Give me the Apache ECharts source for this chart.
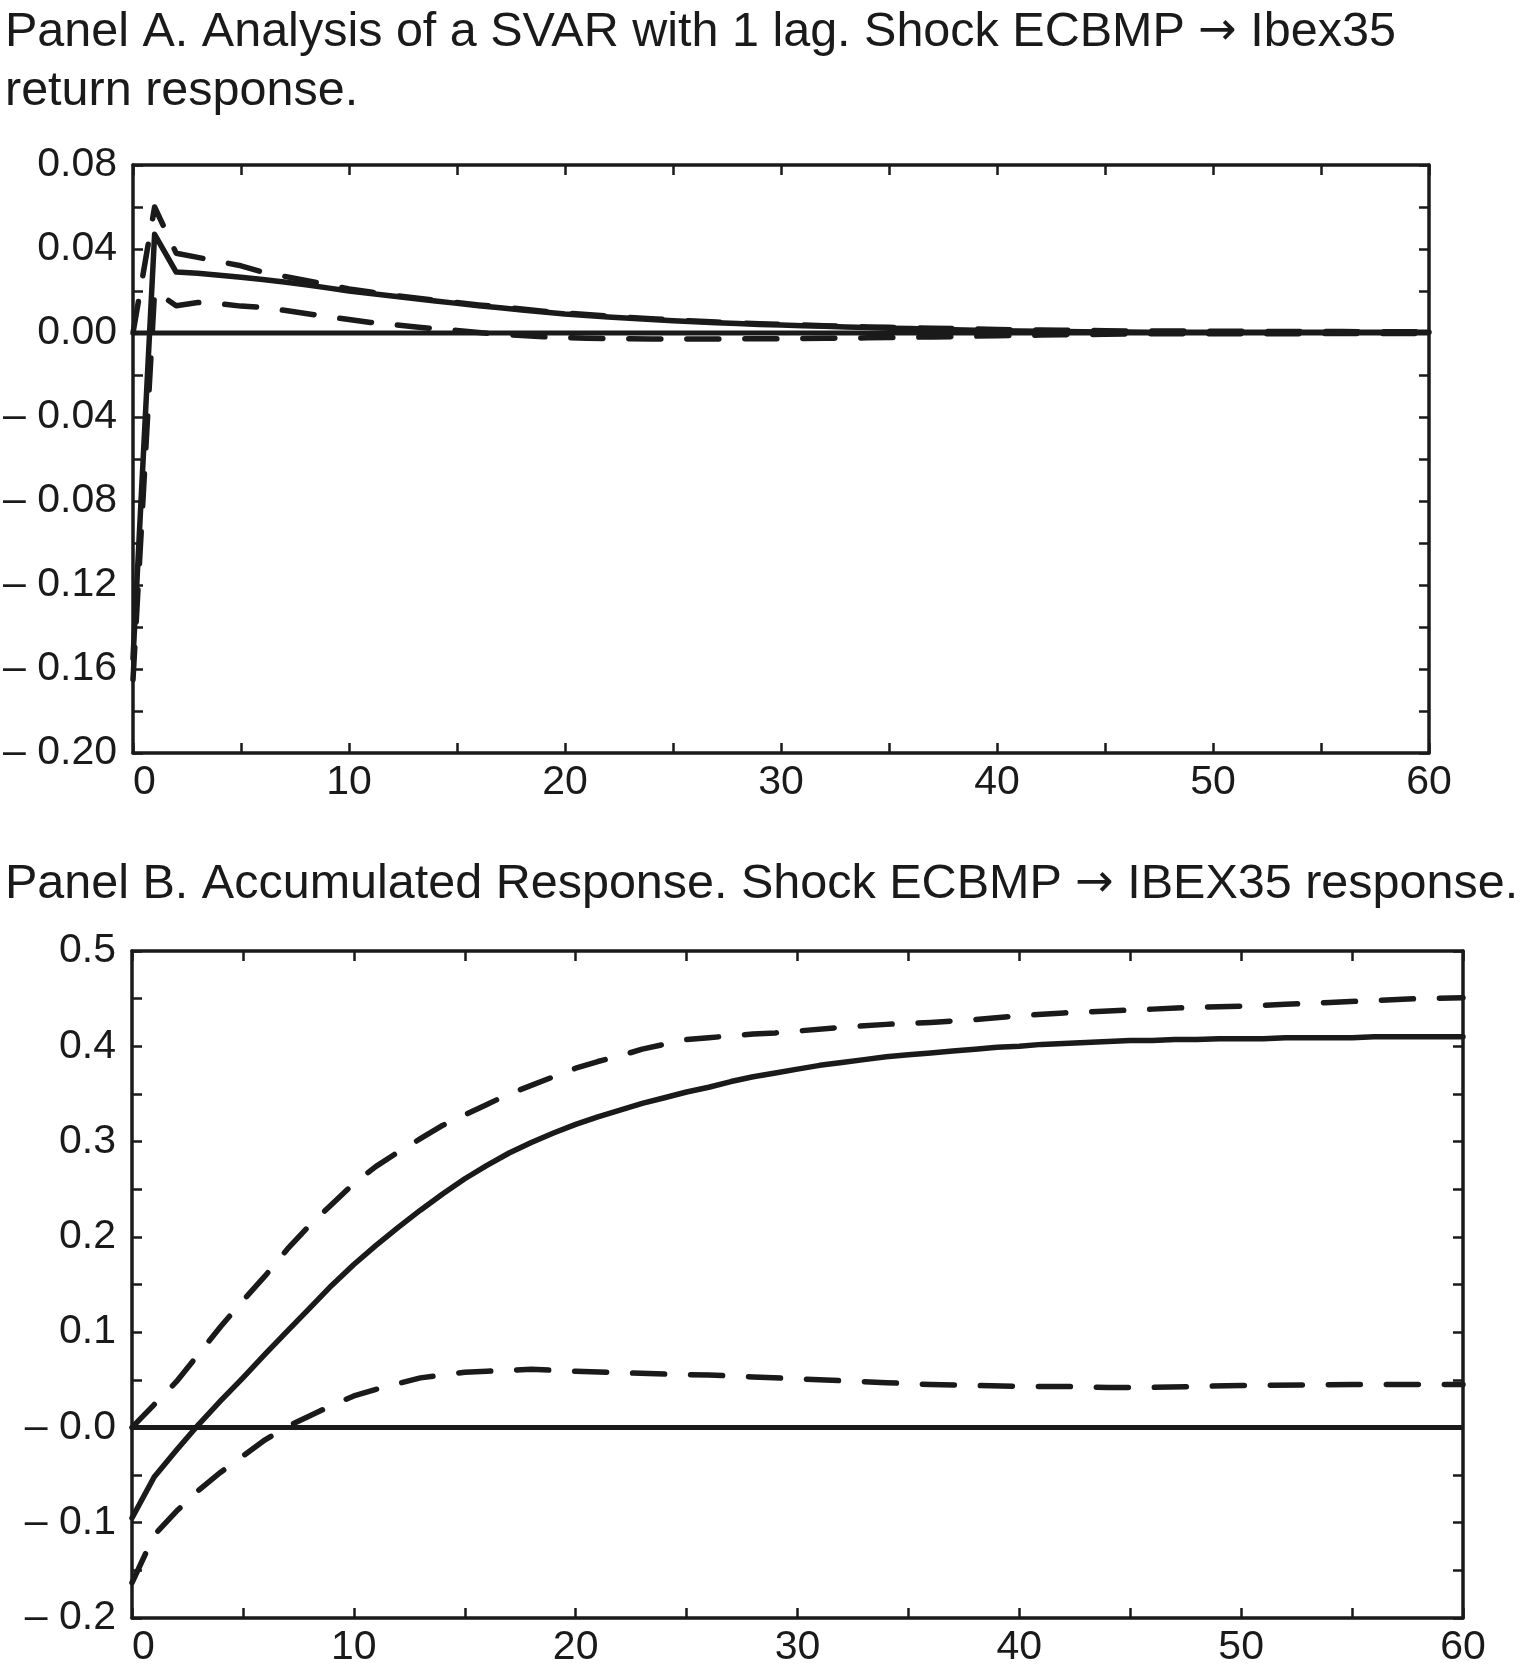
<!DOCTYPE html>
<html>
<head>
<meta charset="utf-8">
<script src="https://cdn.jsdelivr.net/npm/echarts@6/dist/echarts.min.js"></script>
<style>
html,body{margin:0;padding:0;background:#fff;}
#chart{width:1522px;height:1679px;}
</style>
</head>
<body>
<div id="chart"></div>
<script>
// ---------- Panel A: impulse response (period 0..60) ----------
const titleA = 'Panel A. Analysis of a SVAR with 1 lag. Shock ECBMP {arr|\u2192} Ibex35\nreturn response.';
const respA = [-0.155, 0.047, 0.029, 0.0285, 0.0275, 0.0265, 0.0255, 0.0243, 0.0230, 0.0215,
  0.0200, 0.0188, 0.0176, 0.0164, 0.0152, 0.0141, 0.0130, 0.0120, 0.0110, 0.0100,
  0.0090, 0.0083, 0.0076, 0.0070, 0.0064, 0.0058, 0.0053, 0.0049, 0.0045, 0.0041,
  0.0038, 0.0035, 0.0032, 0.0029, 0.0026, 0.0023, 0.0021, 0.0018, 0.0016, 0.0013,
  0.0011, 0.0009, 0.0008, 0.0007, 0.0006, 0.0005, 0.0005, 0.0004, 0.0004, 0.0004,
  0.0003, 0.0003, 0.0003, 0.0003, 0.0003, 0.0003, 0.0003, 0.0003, 0.0003, 0.0003, 0.0003];
const upperA = [0.000, 0.060, 0.038, 0.036, 0.034, 0.032, 0.029, 0.027, 0.025, 0.023,
  0.021, 0.0195, 0.018, 0.0168, 0.0156, 0.0145, 0.0134, 0.0124, 0.0114, 0.0104,
  0.0095, 0.0088, 0.0081, 0.0074, 0.0068, 0.0062, 0.0057, 0.0052, 0.0048, 0.0044,
  0.0041, 0.0038, 0.0035, 0.0032, 0.0029, 0.0027, 0.0025, 0.0023, 0.0021, 0.0019,
  0.0017, 0.0015, 0.0014, 0.0013, 0.0012, 0.0011, 0.0010, 0.0010, 0.0009, 0.0009,
  0.0008, 0.0008, 0.0008, 0.0007, 0.0007, 0.0007, 0.0007, 0.0006, 0.0006, 0.0006, 0.0006];
const lowerA = [-0.165, 0.020, 0.013, 0.0145, 0.0140, 0.0128, 0.0122, 0.0108, 0.0093, 0.0078,
  0.0064, 0.0050, 0.0040, 0.0030, 0.0020, 0.0012, 0.0002, -0.0006, -0.0012, -0.0018,
  -0.0022, -0.0025, -0.0026, -0.0027, -0.0028, -0.0028, -0.0028, -0.0028, -0.0028, -0.0027,
  -0.0027, -0.0026, -0.0025, -0.0024, -0.0023, -0.0022, -0.0020, -0.0019, -0.0017, -0.0015,
  -0.0013, -0.0011, -0.0010, -0.0008, -0.0007, -0.0006, -0.0005, -0.0004, -0.0004, -0.0004,
  -0.0003, -0.0003, -0.0003, -0.0003, -0.0003, -0.0002, -0.0002, -0.0002, -0.0002, -0.0002, -0.0002];
const yTicksA = {'0.08':'0.08','0.04':'0.04','0.00':'0.00','-0.04':'\u2013 0.04','-0.08':'\u2013 0.08',
  '-0.12':'\u2013 0.12','-0.16':'\u2013 0.16','-0.20':'\u2013 0.20'};

// ---------- Panel B: accumulated response ----------
const titleB = 'Panel B. Accumulated Response. Shock ECBMP {arr|\u2192} IBEX35 response.';
const respB = [-0.095, -0.052, -0.024, 0.003, 0.028, 0.052, 0.077, 0.101, 0.125, 0.149,
  0.171, 0.191, 0.210, 0.228, 0.245, 0.261, 0.275, 0.288, 0.299, 0.309,
  0.318, 0.326, 0.333, 0.340, 0.346, 0.352, 0.357, 0.363, 0.368, 0.372,
  0.376, 0.380, 0.383, 0.386, 0.389, 0.391, 0.393, 0.395, 0.397, 0.399,
  0.400, 0.402, 0.403, 0.404, 0.405, 0.406, 0.406, 0.407, 0.407, 0.408,
  0.408, 0.408, 0.409, 0.409, 0.409, 0.409, 0.410, 0.410, 0.410, 0.410, 0.410];
const upperBx = [0,1,2,3,4,5,6,7,8,9,10,11,12,13,14,15,16,17,18,19,20,21,22,23,24,25,26,27,28,29,30,32,34,36,38,40,42,44,46,48,50,52,54,56,58,60];
const upperB = [0.000, 0.024, 0.048, 0.077, 0.106, 0.133, 0.159, 0.187, 0.212, 0.234,
  0.256, 0.274, 0.289, 0.303, 0.317, 0.328, 0.339, 0.350, 0.359, 0.368,
  0.377, 0.384, 0.390, 0.397, 0.402, 0.407, 0.409, 0.411, 0.413, 0.414,
  0.416, 0.420, 0.423, 0.425, 0.428, 0.432, 0.435, 0.437, 0.439, 0.441,
  0.442, 0.444, 0.446, 0.448, 0.450, 0.451];
const lowerBx = [0,1,2,3,4,5,6,7,8,9,10,11,12,13,14,15,16,17,18,19,20,22,24,26,28,30,32,34,36,38,40,42,44,46,48,50,55,60];
const lowerB = [-0.163, -0.113, -0.088, -0.066, -0.047, -0.030, -0.013, 0.001, 0.012, 0.023,
  0.033, 0.040, 0.046, 0.052, 0.055, 0.058, 0.059, 0.060, 0.061, 0.060,
  0.059, 0.0575, 0.056, 0.055, 0.053, 0.051, 0.049, 0.047, 0.045, 0.044,
  0.043, 0.043, 0.042, 0.042, 0.043, 0.044, 0.045, 0.045];
const yTicksB = {'0.5':'0.5','0.4':'0.4','0.3':'0.3','0.2':'0.2','0.1':'0.1','0.0':'\u2013 0.0',
  '-0.1':'\u2013 0.1','-0.2':'\u2013 0.2'};
const xTickLabels = ['0','10','20','30','40','50','60'];

// ---------- styling ----------
const FONT = 'Liberation Sans';
const INK = '#1a1a1a';
const chart = echarts.init(document.getElementById('chart'), null, {renderer:'canvas'});

function xAxisFor(gridIndex, isTop){
  return {
    type:'value', gridIndex, min:0, max:60, interval:5, position: isTop ? 'top':'bottom',
    axisLine:{show:true, onZero:false, lineStyle:{color:INK, width:3.5}},
    axisTick:{show:true, inside:true, length:10, lineStyle:{color:INK, width:2.5}},
    splitLine:{show:false},
    axisLabel:{show:!isTop, fontFamily:FONT, fontSize:41, color:INK, margin:9,
      alignMinLabel:'left',
      formatter:v => { const s = String(Math.round(v)); return xTickLabels.includes(s) ? s : ''; }}
  };
}
function yAxisFor(gridIndex, isRight, min, max, interval, labels, dec, labelStep){
  return {
    type:'value', gridIndex, min, max, interval, position: isRight ? 'right':'left',
    axisLine:{show:true, onZero:false, lineStyle:{color:INK, width:3.5}},
    axisTick:{show:true, inside:true, length:10, lineStyle:{color:INK, width:2.5}},
    splitLine:{show:false},
    axisLabel:{show:!isRight, fontFamily:FONT, fontSize:41, color:INK, margin:16,
      formatter:v => {
        const q = v / labelStep;
        if (Math.abs(q - Math.round(q)) > 1e-6) return '';
        let k = v.toFixed(dec);
        if (k === '-' + (0).toFixed(dec)) k = (0).toFixed(dec);
        return labels[k] || '';
      }}
  };
}
function line(name, xi, yi, data, dashed){
  return {
    name, type:'line', xAxisIndex:xi, yAxisIndex:yi, data, symbol:'none', smooth:false,
    lineStyle:{color:INK, width:dashed ? 5.5 : 5.5, type: dashed ? [32, 26] : 'solid', cap:'round', join:'round'},
    z: dashed ? 3 : 4, silent:true
  };
}
function zeroLine(xi, yi){
  return {type:'line', xAxisIndex:xi, yAxisIndex:yi, data:[[0,0],[60,0]], symbol:'none',
    lineStyle:{color:INK, width:5}, silent:true, z:2};
}
const titleStyle = {fontFamily:FONT, fontWeight:'normal', fontSize:48.5, lineHeight:59, color:INK,
  rich:{arr:{fontFamily:'DejaVu Sans', fontSize:46, color:INK, lineHeight:59}}};

const option = {
  backgroundColor:'#fff',
  animation:false,
  title:[
    {text:titleA, left:0, top:-2, textStyle:titleStyle},
    {text:titleB, left:0, top:850, textStyle:titleStyle}
  ],
  grid:[
    {left:133, top:165, width:1296, height:588},
    {left:132, top:951, width:1331, height:667}
  ],
  xAxis:[xAxisFor(0,false), xAxisFor(0,true), xAxisFor(1,false), xAxisFor(1,true)],
  yAxis:[
    yAxisFor(0,false,-0.20,0.08,0.02,yTicksA,2,0.04), yAxisFor(0,true,-0.20,0.08,0.02,yTicksA,2,0.04),
    yAxisFor(1,false,-0.2,0.5,0.05,yTicksB,1,0.1), yAxisFor(1,true,-0.2,0.5,0.05,yTicksB,1,0.1)
  ],
  series:[
    zeroLine(0,0),
    line('Response A',0,0,respA.map((v,i)=>[i,v]),false),
    line('Upper A',0,0,upperA.map((v,i)=>[i,v]),true),
    line('Lower A',0,0,lowerA.map((v,i)=>[i,v]),true),
    zeroLine(2,2),
    line('Response B',2,2,respB.map((v,i)=>[i,v]),false),
    line('Upper B',2,2,upperB.map((v,i)=>[upperBx[i],v]),true),
    line('Lower B',2,2,lowerB.map((v,i)=>[lowerBx[i],v]),true)
  ]
};
chart.setOption(option);
</script>
</body>
</html>
